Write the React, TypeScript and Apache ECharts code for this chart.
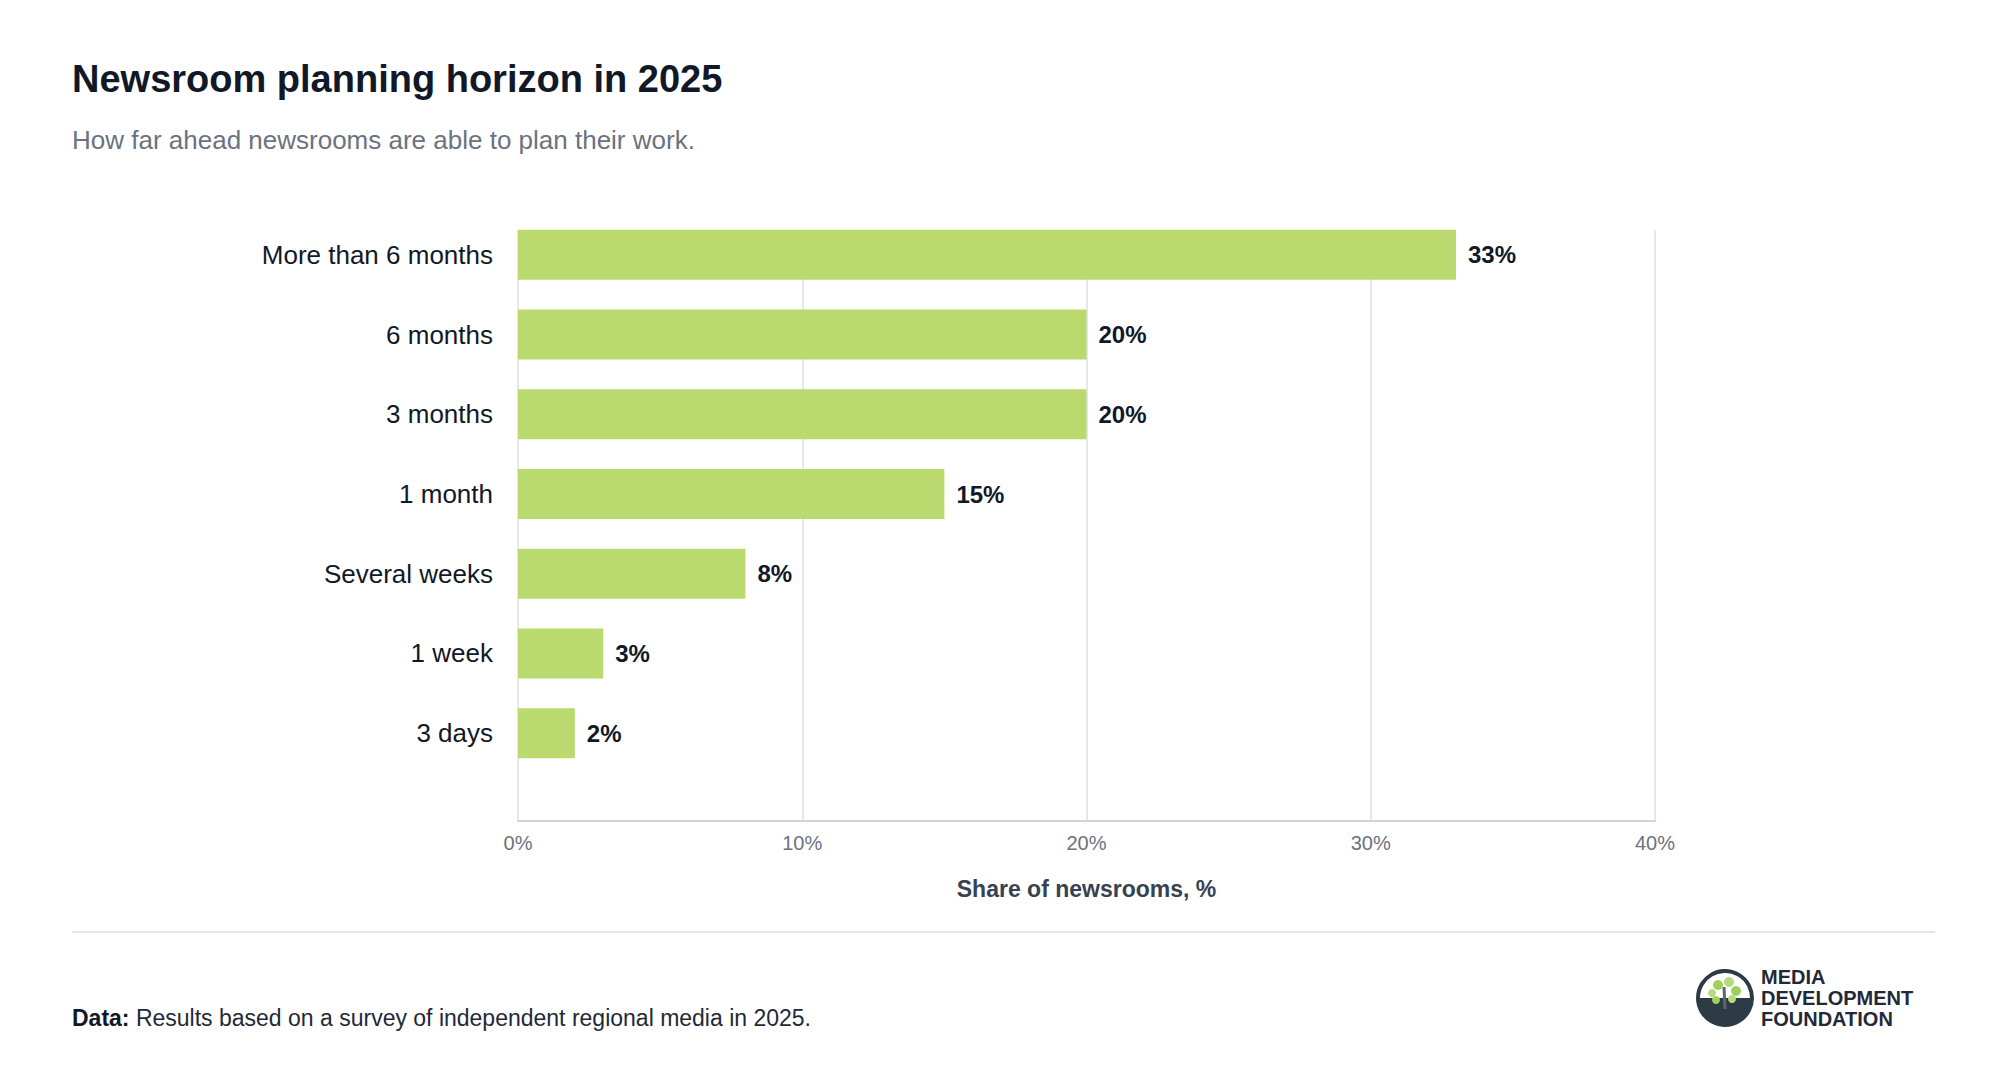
import { useEffect, useRef } from 'react';
import * as echarts from 'echarts';

const categories = ['More than 6 months', '6 months', '3 months', '1 month', 'Several weeks', '1 week', '3 days'];
const shares = [33, 20, 20, 15, 8, 3, 2];
const xTicks = [0, 10, 20, 30, 40];
const logoLines = ['MEDIA', 'DEVELOPMENT', 'FOUNDATION'];

const FONT = '"Liberation Sans", Arial, sans-serif';

export default function App() {
  const ref = useRef<HTMLDivElement | null>(null);

  useEffect(() => {
    if (!ref.current) return;
    const chart = echarts.init(ref.current, null, { renderer: 'svg' });

    const xMin = xTicks[0];
    const xMax = xTicks[xTicks.length - 1];

    chart.setOption({
      animation: false,
      backgroundColor: '#ffffff',
      textStyle: { fontFamily: FONT },
      grid: [
        // bars
        { left: 518, right: 353, top: 215, height: 558, containLabel: false },
        // frame: grid lines, axis, ticks
        { left: 518, right: 353, top: 230, height: 591, containLabel: false },
      ],
      xAxis: [
        { gridIndex: 0, type: 'value', min: xMin, max: xMax, interval: 10, show: false },
        {
          gridIndex: 1,
          type: 'value',
          min: xMin,
          max: xMax,
          interval: 10,
          z: 0,
          axisLine: { show: true, lineStyle: { color: '#d1d5db', width: 2 } },
          axisTick: { show: false },
          splitLine: { lineStyle: { color: '#e5e7eb', width: 2 } },
          axisLabel: { formatter: '{value}%', color: '#6b7280', fontSize: 20, margin: 12 },
          name: 'Share of newsrooms, %',
          nameLocation: 'middle',
          nameGap: 56,
          nameTextStyle: { color: '#374151', fontSize: 23, fontWeight: 'bold' },
        },
      ],
      yAxis: [
        {
          gridIndex: 0,
          type: 'category',
          inverse: true,
          data: categories,
          axisLine: { show: false },
          axisTick: { show: false },
          axisLabel: { color: '#111827', fontSize: 26, margin: 25 },
        },
        { gridIndex: 1, type: 'value', show: false },
      ],
      series: [
        {
          type: 'bar',
          xAxisIndex: 0,
          yAxisIndex: 0,
          data: shares,
          barWidth: 50,
          z: 3,
          itemStyle: { color: '#bada6f' },
          label: {
            show: true,
            position: 'right',
            distance: 12,
            formatter: '{c}%',
            color: '#111827',
            fontSize: 24,
            fontWeight: 'bold',
          },
        },
      ],
      graphic: [
        { type: 'text', left: 72, top: 60, style: { text: 'Newsroom planning horizon in 2025', font: `bold 38px ${FONT}`, fill: '#111827' } },
        { type: 'text', left: 72, top: 127, style: { text: 'How far ahead newsrooms are able to plan their work.', font: `26px ${FONT}`, fill: '#6b7280' } },
        { type: 'line', shape: { x1: 72, y1: 932, x2: 1935, y2: 932 }, style: { stroke: '#e5e7eb', lineWidth: 2 } },
        {
          type: 'text', left: 72, top: 1006,
          style: {
            text: '{b|Data:} Results based on a survey of independent regional media in 2025.',
            font: `23px ${FONT}`, fill: '#1f2937',
            rich: { b: { fontWeight: 'bold', fontSize: 23, fontFamily: FONT, fill: '#111827' } },
          },
        },
        {
          type: 'group', left: 1696, top: 969,
          children: [
            { type: 'circle', shape: { cx: 29, cy: 29, r: 27 }, style: { fill: '#ffffff', stroke: '#2d3b45', lineWidth: 4 } },
            { type: 'sector', shape: { cx: 29, cy: 29, r: 27, startAngle: 0, endAngle: Math.PI }, style: { fill: '#2d3b45' } },
            { type: 'line', shape: { x1: 29, y1: 40, x2: 28, y2: 18 }, style: { stroke: '#5b6670', lineWidth: 3 } },
            { type: 'circle', shape: { cx: 22, cy: 16, r: 5 }, style: { fill: '#9fcf5c' } },
            { type: 'circle', shape: { cx: 33, cy: 13, r: 5 }, style: { fill: '#b5dc7a' } },
            { type: 'circle', shape: { cx: 16, cy: 24, r: 4 }, style: { fill: '#b5dc7a' } },
            { type: 'circle', shape: { cx: 40, cy: 22, r: 5 }, style: { fill: '#9fcf5c' } },
            { type: 'circle', shape: { cx: 36, cy: 30, r: 4 }, style: { fill: '#b5dc7a' } },
            { type: 'circle', shape: { cx: 20, cy: 31, r: 4 }, style: { fill: '#9fcf5c' } },
          ],
        },
        ...logoLines.map((t, i) => ({
          type: 'text', left: 1761, top: 967 + i * 21,
          style: { text: t, font: `bold 20px ${FONT}`, fill: '#1f2937' },
        })),
      ],
    });

    return () => chart.dispose();
  }, []);

  return <div ref={ref} style={{ position: 'absolute', left: 0, top: 0, width: 2008, height: 1084 }} />;
}
